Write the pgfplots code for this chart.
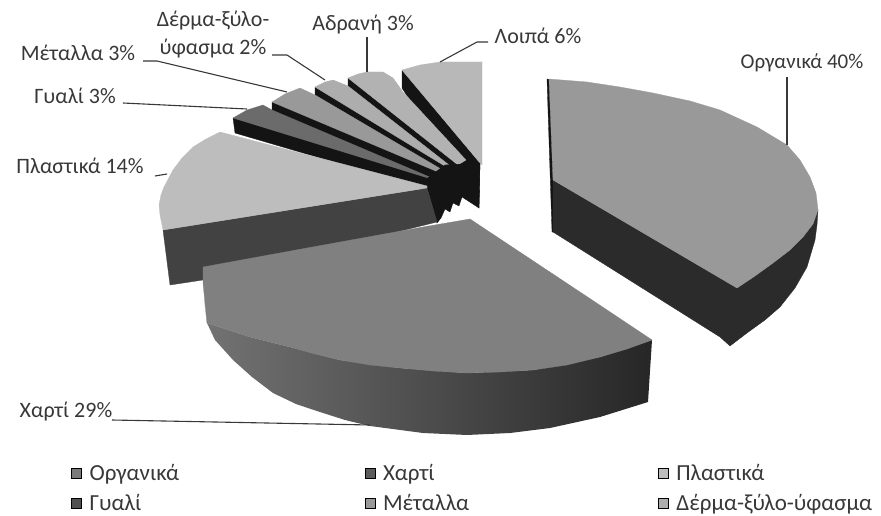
\documentclass[border=0pt]{standalone}
\usepackage{fontspec}
\setmainfont{Carlito}
\usepackage{pgfplots}
\pgfplotsset{compat=1.18}
\definecolor{txt}{gray}{0.22}
\definecolor{cOrg}{gray}{0.60}
\definecolor{cOrgS}{gray}{0.17}
\definecolor{cPap}{gray}{0.50}
\definecolor{cPapS}{gray}{0.20}
\definecolor{cPla}{gray}{0.74}
\definecolor{cPlaS}{gray}{0.26}
\definecolor{cGla}{gray}{0.42}
\definecolor{cMet}{gray}{0.60}
\definecolor{cLea}{gray}{0.68}
\definecolor{cIne}{gray}{0.70}
\definecolor{cOth}{gray}{0.72}
\definecolor{cDark}{gray}{0.08}
\pgfplotsset{
  face/.style={fill=#1,draw=#1,line width=0.3pt,mark=none,forget plot},
  leader/.style={draw=txt,line width=1.1pt,mark=none,forget plot},
}
\newcommand{\lab}[3]{\node[text=txt,font=\fontsize{22}{28}\selectfont,align=center,inner sep=0pt] at (axis cs:#1,#2) {#3};}
\newcommand{\entry}[1]{\makebox[275pt][l]{\hspace{4pt}#1}}
\begin{document}
\begin{tikzpicture}
\path[use as bounding box] (0,0) rectangle (881pt,516pt);
\begin{axis}[
  at={(0,0)},anchor=south west,
  scale only axis,width=881pt,height=516pt,
  xmin=0,xmax=881,ymin=0,ymax=516,y dir=reverse,
  hide axis,clip=false,
  legend columns=3,
  legend image code/.code={\fill[#1] (0pt,-5pt) rectangle (10pt,5pt);},
  legend style={at={(axis cs:71,464)},anchor=north west,draw=none,fill=none,inner sep=0pt,
    row sep=12pt,font=\fontsize{23}{24}\selectfont,text=txt,
    /tikz/every even column/.append style={column sep=0pt},
    nodes={inner xsep=4pt,inner ysep=0pt}},
  legend cell align=left,
]
% Others
\addplot[face=cDark] coordinates {(402,70)(480,163)(479,208)(402,88)(402,70)};
\addplot[face=cOth] coordinates {(402,70)(420,65)(440,62)(482,62)(482,165)(480,163)(402,70)};
% Inert
\addplot[face=cDark] coordinates {(348,78)(464,160)(464,195)(348,88)(348,78)};
\addplot[face=cIne] coordinates {(348,78)(358,74)(367,72)(383,72)(393,78)(403,92)(466,160)(458,165)(348,78)};
% Leather
\addplot[face=cDark] coordinates {(315,87)(456,165)(456,195)(315,95)(315,87)};
\addplot[face=cLea] coordinates {(315,87)(325,82)(333,80)(348,86)(458,172)(448,168)(315,87)};
% Metal
\addplot[face=cDark] coordinates {(272,102)(446,168)(446,198)(272,110)(272,102)};
\addplot[face=cMet] coordinates {(272,102)(285,94)(300,88)(315,95)(446,172)(438,172)(272,102)};
% Glass
\addplot[face=cDark] coordinates {(233,118)(430,170)(436,192)(235,133)(233,118)};
\addplot[face=cGla] coordinates {(233,118)(247,110)(263,105)(272,110)(432,178)(428,178)(233,118)};
% Central block
\addplot[face=cDark] coordinates {(425,180)(445,165)(480,163)(479,208)(462,197)(459,206)(453,203)(450,212)(445,209)(441,218)(437,223)(427,188)(425,180)};
% Plastics
\addplot[face=cPlaS] coordinates {(163,230)(427,188)(437,222)(203,280)(170,285)(163,230)};
\addplot[face=cPla] coordinates {(163,230)(160,215)(159,205)(161,195)(164,187)(173,170)(182,158)(193,147)(206,139)(220,132)(427,186)(427,188)(163,230)};
% Paper
\addplot[draw=none,mark=none,forget plot,left color=black!55!white,middle color=black!78!white,right color=black!85!white]
  coordinates {(204,300)(207,323)(215,340)(233,360)(252,377)(273,393)(296,404)(320,412)(345,420)(370,426)(423,433)(467,435)(510,433)(550,428)(600,417)(648,402)(652,340)(600,357)(533,370)(467,373)(400,368)(340,360)(290,347)(250,337)(207,323)(204,300)};
\addplot[face=cPap] coordinates {(203,267)(307,248)(423,227)(470,219)(583,294)(652,340)(627,349)(600,357)(567,365)(533,370)(500,372)(467,373)(433,371)(400,368)(370,365)(340,360)(315,354)(290,347)(250,337)(207,323)(203,283)(203,267)};
% Organic
\addplot[face=cDark] coordinates {(547,79)(552,80)(556,180)(555,232)(552,232)(547,79)};
\addplot[face=cOrgS] coordinates {(553,180)(737,288)(773,263)(803,237)(818,210)(817,225)(815,240)(807,267)(795,288)(780,307)(765,320)(747,333)(730,346)(720,337)(553,232)(553,180)};
\addplot[face=cOrg] coordinates {(549,79)(587,82)(620,87)(653,93)(690,101)(720,110)(757,127)(787,145)(800,160)(810,177)(816,193)(818,210)(813,224)(803,237)(790,250)(773,263)(755,276)(737,288)(553,180)(549,79)};
% Leader lines
\addplot[leader] coordinates {(787,77)(787,145)};
\addplot[leader] coordinates {(440,62)(477,42)(488,42)};
\addplot[leader] coordinates {(367,37)(367,72)};
\addplot[leader] coordinates {(272,55)(287,55)(325,80)};
\addplot[leader] coordinates {(143,61)(157,61)(287,92)};
\addplot[leader] coordinates {(123,103)(247,109)};
\addplot[leader] coordinates {(155,176)(167,174)};
\addplot[leader] coordinates {(112,420)(370,425)};
% Labels
\lab{802}{63}{\fontsize{21}{26}\selectfont Οργανικά 40\%}
\lab{538}{36}{Λοιπά 6\%}
\lab{363}{25}{Αδρανή 3\%}
\lab{213}{35}{Δέρμα-ξύλο-\\ύφασμα 2\%}
\lab{78}{53}{Μέταλλα 3\%}
\lab{75}{96}{Γυαλί 3\%}
\lab{80}{166}{Πλαστικά 14\%}
\lab{66}{412}{Χαρτί 29\%}
% Legend
\addlegendimage{fill=cOrg!80!black}
\addlegendimage{fill=cPapS!80!white}
\addlegendimage{fill=cPla}
\addlegendimage{fill=cGla!75!black}
\addlegendimage{fill=cMet}
\addlegendimage{fill=cLea}
\legend{\entry{Οργανικά},\entry{Χαρτί},\entry{Πλαστικά},\entry{Γυαλί},\entry{Μέταλλα},\hspace{4pt}Δέρμα-ξύλο-ύφασμα}
\end{axis}
\end{tikzpicture}
\end{document}
